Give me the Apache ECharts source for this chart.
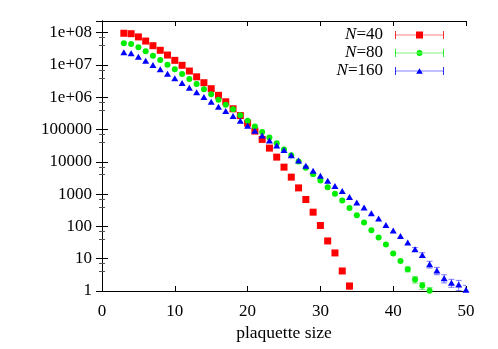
<!DOCTYPE html>
<html>
<head>
<meta charset="utf-8">
<script src="https://cdn.jsdelivr.net/npm/echarts@6/dist/echarts.min.js"></script>
<style>
  html, body { margin: 0; padding: 0; background: #fff; }
  #chart { width: 498px; height: 349px; }
</style>
</head>
<body>
<div id="chart"></div>
<script>
// plaquette sizes (shared x values)
const sizes = [3, 4, 5, 6, 7, 8, 9, 10, 11, 12, 13, 14, 15, 16, 17, 18, 19, 20,
  21, 22, 23, 24, 25, 26, 27, 28, 29, 30, 31, 32, 33, 34, 35, 36, 37, 38, 39, 40,
  41, 42, 43, 44, 45, 46, 47, 48, 49, 50]

// counts per size
const n40 = [9.6e7, 9.3e7, 7.4e7, 5.5e7, 3.95e7, 2.85e7, 2.03e7, 1.39e7, 9.75e6, 6.5e6,
  4.3e6, 2.82e6, 1.84e6, 1.15e6, 7.25e5, 4.4e5, 2.71e5, 1.58e5, 8.95e4, 4.95e4,
  2.66e4, 1.40e4, 6850, 3360, 1560, 682, 276, 107, 35.5, 15.1, 4.17, 1.43]
const n80 = [4.69e7, 4.46e7, 3.52e7, 2.65e7, 1.94e7, 1.42e7, 1.02e7, 7.33e6, 5.24e6, 3.67e6,
  2.56e6, 1.76e6, 1.23e6, 8.36e5, 5.85e5, 4.22e5, 2.77e5, 1.87e5, 1.25e5, 8.34e4,
  5.63e4, 3.75e4, 2.42e4, 1.61e4, 1.03e4, 6510, 4160, 2650, 1640, 1020,
  635, 375, 222, 132, 76.2, 45.3, 27.5, 14.4, 8.51, 4.71, 2.26, 1.47, 1.02]
const n160 = [2.47e7, 2.30e7, 1.80e7, 1.36e7, 9.96e6, 7.33e6, 5.35e6, 3.85e6, 2.76e6, 1.97e6,
  1.42e6, 1.01e6, 7.25e5, 5.07e5, 3.73e5, 2.61e5, 1.87e5, 1.31e5, 9.14e4, 6.49e4,
  4.60e4, 3.23e4, 2.31e4, 1.61e4, 1.10e4, 7520, 5260, 3680, 2580, 1800,
  1260, 822, 551, 385, 257, 176, 111, 74.6, 50.7, 31.7, 19.6, 13.1,
  6.73, 4.29, 2.48, 1.80, 1.58, 1.10]

// error bars (only the visible ones in the tail)
const n40ErrSizes = [34]
const n40Errs = [0.3]
const n80ErrSizes = [42, 43, 44, 45]
const n80Errs = [0.8, 0.5, 0.35, 0.25]
const n160ErrSizes = [43, 44, 45, 46, 47, 48, 49, 50]
const n160Errs = [2.5, 2.2, 1.6, 1.1, 0.7, 0.5, 0.55, 0.4]

const xTicks = [0, 10, 20, 30, 40, 50]

const font = 'Liberation Serif'

const pairs = (vals) => vals.map((v, i) => [sizes[i], v])

const errData = (vals, errSizes, errs) => errSizes.map((s, k) => {
  const v = vals[sizes.indexOf(s)]
  return [s, Math.max(v - errs[k], 0.5), v + errs[k]]
})

const errorSeries = (vals, errSizes, errs, color) => ({
  type: 'custom',
  silent: true,
  clip: true,
  z: 1,
  data: errData(vals, errSizes, errs),
  encode: { x: 0, y: [1, 2] },
  renderItem: (params, api) => {
    const lo = api.coord([api.value(0), api.value(1)])
    const hi = api.coord([api.value(0), api.value(2)])
    const w = 3
    const style = { stroke: color, lineWidth: 1 }
    return {
      type: 'group',
      children: [
        { type: 'line', shape: { x1: hi[0], y1: hi[1], x2: lo[0], y2: lo[1] }, style },
        { type: 'line', shape: { x1: hi[0] - w, y1: hi[1], x2: hi[0] + w, y2: hi[1] }, style },
        { type: 'line', shape: { x1: lo[0] - w, y1: lo[1], x2: lo[0] + w, y2: lo[1] }, style }
      ]
    }
  }
})

// legend icons: error bar with caps + marker
const barPath = 'M0 0 L0.8 0 L0.8 3.7 L48.2 3.7 L48.2 0 L49 0 L49 8 L48.2 8 L48.2 4.3 L0.8 4.3 L0.8 8 L0 8 Z '
const iconSquare = 'path://' + barPath + 'M21 0.5 L28 0.5 L28 7.5 L21 7.5 Z'
const iconCircle = 'path://' + barPath + 'M21.5 4 A3 3 0 1 0 27.5 4 A3 3 0 1 0 21.5 4 Z'
const iconTriangle = 'path://' + barPath + 'M24.5 1.2 L27.8 6.8 L21.2 6.8 Z'

const yLabel = (v) => {
  if (v >= 1e6) {
    const e = Math.round(Math.log10(v))
    return '1e+' + (e < 10 ? '0' + e : e)
  }
  return String(Math.round(v))
}

const tickStyle = { color: '#000', width: 1 }

const chart = echarts.init(document.getElementById('chart'), null, { renderer: 'canvas' })

chart.setOption({
  animation: false,
  backgroundColor: '#fff',
  textStyle: { fontFamily: font },
  grid: { left: 102, right: 32, top: 21, bottom: 58 },
  legend: {
    orient: 'vertical',
    align: 'right',
    right: 54,
    top: 26,
    padding: 0,
    itemGap: 0,
    itemWidth: 49,
    itemHeight: 8,
    data: [
      { name: 'N=40', icon: iconSquare },
      { name: 'N=80', icon: iconCircle },
      { name: 'N=160', icon: iconTriangle }
    ],
    formatter: (name) => '{i|N}' + name.slice(1),
    textStyle: {
      fontFamily: font,
      fontSize: 17,
      color: '#000',
      lineHeight: 18,
      padding: [0, 7, 0, 0],
      rich: {
        i: { fontFamily: font, fontSize: 17, fontStyle: 'italic', color: '#000' }
      }
    }
  },
  xAxis: [
    {
      type: 'value',
      min: 0,
      max: 50,
      interval: 10,
      name: 'plaquette size',
      nameLocation: 'middle',
      nameGap: 31,
      nameTextStyle: { fontFamily: font, fontSize: 17.5, color: '#000' },
      axisLine: { lineStyle: { color: '#000', width: 1 } },
      axisTick: { inside: true, length: 5, lineStyle: tickStyle },
      axisLabel: {
        fontFamily: font, fontSize: 17, color: '#000', margin: 12,
        formatter: (v) => xTicks.includes(v) ? String(v) : ''
      },
      splitLine: { show: false }
    },
    {
      type: 'value',
      position: 'top',
      min: 0,
      max: 50,
      interval: 10,
      axisLine: { lineStyle: { color: '#000', width: 1 } },
      axisTick: { inside: true, length: 5, lineStyle: tickStyle },
      axisLabel: { show: false },
      splitLine: { show: false }
    }
  ],
  yAxis: [
    {
      type: 'log',
      logBase: 10,
      min: 1,
      max: 2.3e8,
      splitNumber: 8,
      axisLine: { show: true, lineStyle: { color: '#000', width: 1 } },
      axisTick: { inside: true, length: 6, lineStyle: tickStyle },
      minorTick: { show: true, splitNumber: 3, length: 3, lineStyle: { color: '#555', width: 1 } },
      axisLabel: {
        fontFamily: font, fontSize: 17, color: '#000', margin: 10,
        showMaxLabel: false,
        formatter: yLabel
      },
      splitLine: { show: false }
    },
    {
      type: 'log',
      logBase: 10,
      position: 'right',
      min: 1,
      max: 2.3e8,
      splitNumber: 8,
      axisLine: { show: true, lineStyle: { color: '#000', width: 1 } },
      axisTick: { inside: true, length: 6, lineStyle: tickStyle },
      minorTick: { show: true, splitNumber: 3, length: 3, lineStyle: { color: '#555', width: 1 } },
      axisLabel: { show: false },
      splitLine: { show: false }
    }
  ],
  series: [
    errorSeries(n40, n40ErrSizes, n40Errs, 'rgba(255,0,0,0.5)'),
    errorSeries(n80, n80ErrSizes, n80Errs, 'rgba(0,220,0,0.6)'),
    errorSeries(n160, n160ErrSizes, n160Errs, 'rgba(0,0,255,0.5)'),
    {
      name: 'N=40',
      type: 'scatter',
      symbol: 'rect',
      symbolSize: 7,
      itemStyle: { color: '#ff0000', opacity: 1 },
      data: pairs(n40),
      z: 2
    },
    {
      name: 'N=80',
      type: 'scatter',
      symbol: 'circle',
      symbolSize: 6,
      itemStyle: { color: '#00ee00', opacity: 1 },
      data: pairs(n80),
      z: 3
    },
    {
      name: 'N=160',
      type: 'scatter',
      symbol: 'triangle',
      symbolSize: [7, 6],
      itemStyle: { color: '#0000ff', opacity: 1 },
      data: pairs(n160),
      z: 4
    }
  ]
})
</script>
</body>
</html>
